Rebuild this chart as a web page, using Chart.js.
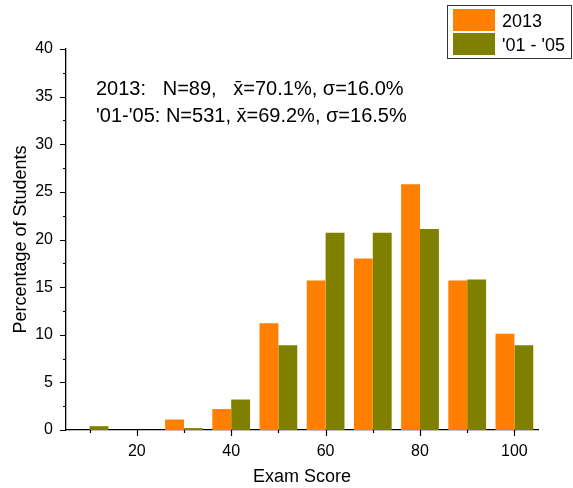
<!DOCTYPE html>
<html>
<head>
<meta charset="utf-8">
<script src="https://cdn.jsdelivr.net/npm/chart.js@4.4.0/dist/chart.umd.min.js"></script>
<style>
  html, body { margin: 0; padding: 0; background: #fff; }
  #wrap { width: 573px; height: 488px; position: relative; }
</style>
</head>
<body>
<div id="wrap"><canvas id="chart"></canvas></div>
<script>
// DATA
const scoreBins = [10, 20, 30, 40, 50, 60, 70, 80, 90, 100];
const pct2013 = [0, 0, 1.1, 2.2, 11.2, 15.7, 18.0, 25.8, 15.7, 10.1];
const pct0105 = [0.4, 0, 0.2, 3.2, 8.9, 20.7, 20.7, 21.1, 15.8, 8.9];
const seriesNames = ['2013', "'01 - '05"];
const seriesColors = ['#ff8000', '#808000'];
const yTicks = [0, 5, 10, 15, 20, 25, 30, 35, 40];
const xLabelEvery = 20;

// stats text
const statLines = [
  '2013:   N=89,   x\u0304=70.1%, \u03c3=16.0%',
  "'01-'05: N=531, x\u0304=69.2%, \u03c3=16.5%"
];

const FONT = "'Liberation Sans', Arial, sans-serif";

// tick marks: long at labelled values, short in between
const tickMarks = {
  id: 'tickMarks',
  afterDraw(chart) {
    const ctx = chart.ctx;
    const xs = chart.scales.x, ys = chart.scales.y;
    ctx.save();
    ctx.strokeStyle = '#000';
    ctx.lineWidth = 1.2;
    ctx.beginPath();
    xs.ticks.forEach((t, i) => {
      const px = Math.round(xs.getPixelForTick(i)) + 0.5;
      const len = scoreBins[i] % xLabelEvery === 0 ? 6 : 3;
      ctx.moveTo(px, xs.top);
      ctx.lineTo(px, xs.top + len);
    });
    ys.ticks.forEach((t, i) => {
      const py = Math.round(ys.getPixelForTick(i)) + 0.5;
      const len = yTicks.includes(t.value) ? 6 : 3;
      ctx.moveTo(ys.right, py);
      ctx.lineTo(ys.right - len, py);
    });
    ctx.stroke();
    ctx.restore();
  }
};

// boxed legend in the top right corner
const boxLegend = {
  id: 'boxLegend',
  afterDraw(chart) {
    const ctx = chart.ctx;
    ctx.save();
    ctx.strokeStyle = '#333';
    ctx.lineWidth = 1;
    ctx.strokeRect(447.5, 5.5, 124, 53);
    ctx.font = '18px ' + FONT;
    ctx.textBaseline = 'alphabetic';
    chart.data.datasets.forEach((ds, i) => {
      const top = 9 + i * 24;
      ctx.fillStyle = ds.backgroundColor;
      ctx.fillRect(453, top, 42, 22);
      ctx.fillStyle = '#000';
      ctx.fillText(ds.label, 502, top + 18);
    });
    ctx.restore();
  }
};

// N / mean / sigma text
const statsText = {
  id: 'statsText',
  afterDraw(chart) {
    const ctx = chart.ctx;
    ctx.save();
    ctx.font = '20px ' + FONT;
    ctx.fillStyle = '#000';
    statLines.forEach((txt, r) => ctx.fillText(txt, 96, 95 + r * 27));
    ctx.restore();
  }
};

new Chart(document.getElementById('chart'), {
  type: 'bar',
  data: {
    labels: scoreBins,
    datasets: [
      { label: seriesNames[0], data: pct2013, backgroundColor: seriesColors[0] },
      { label: seriesNames[1], data: pct0105, backgroundColor: seriesColors[1] }
    ]
  },
  options: {
    responsive: true,
    maintainAspectRatio: false,
    animation: false,
    layout: { padding: { left: 0, right: 35, top: 49, bottom: 0 } },
    datasets: { bar: { barPercentage: 1, categoryPercentage: 0.8, borderWidth: 0 } },
    plugins: {
      legend: { display: false },
      tooltip: { enabled: false }
    },
    scales: {
      x: {
        offset: true,
        grid: { display: false, drawTicks: false, offset: false },
        border: { display: true, color: '#000', width: 1.3 },
        ticks: {
          autoSkip: false,
          maxRotation: 0,
          padding: 12,
          color: '#000',
          font: { family: FONT, size: 16 },
          callback(v, i) { return scoreBins[i] % xLabelEvery === 0 ? String(scoreBins[i]) : ''; }
        },
        title: {
          display: true,
          text: 'Exam Score',
          color: '#000',
          font: { family: FONT, size: 18 },
          padding: { top: 0, bottom: 0 }
        },
        afterFit(s) { s.height = 58; }
      },
      y: {
        min: 0,
        max: 40,
        grid: { display: false, drawTicks: false },
        border: { display: true, color: '#000', width: 1.3 },
        ticks: {
          stepSize: 2.5,
          autoSkip: false,
          padding: 13,
          color: '#000',
          font: { family: FONT, size: 16 },
          callback(v) { return yTicks.includes(v) ? String(v) : ''; }
        },
        title: {
          display: true,
          text: 'Percentage of Students',
          color: '#000',
          font: { family: FONT, size: 18 },
          padding: { top: 10, bottom: 0 }
        },
        afterFit(s) { s.width = 66; }
      }
    }
  },
  plugins: [tickMarks, boxLegend, statsText]
});
</script>
</body>
</html>
